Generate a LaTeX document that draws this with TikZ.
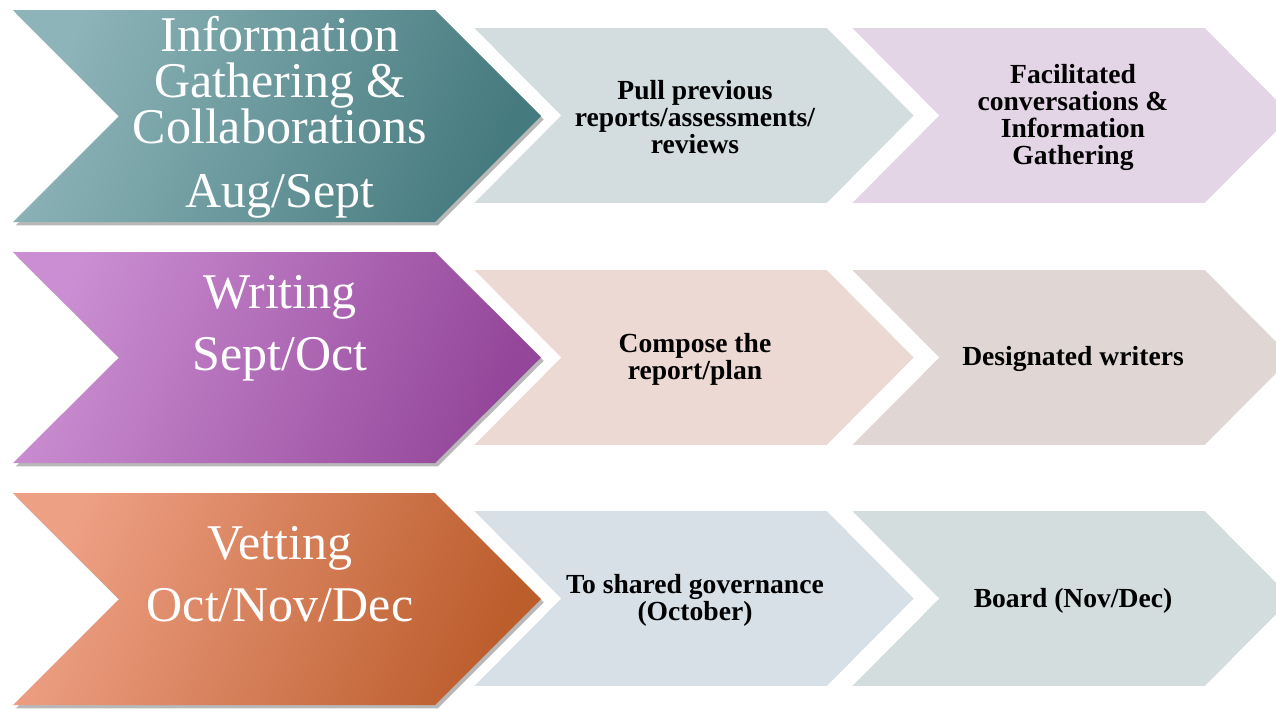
\documentclass[tikz,border=0pt]{standalone}
\usepackage{fontspec}
\setmainfont{Liberation Serif}
\usetikzlibrary{shadows}
\definecolor{tealL}{HTML}{8DB4B8}
\definecolor{tealM}{HTML}{6A9A9E}
\definecolor{tealD}{HTML}{457A7E}
\definecolor{purpL}{HTML}{CB8ED2}
\definecolor{purpM}{HTML}{BC6EBF}
\definecolor{purpD}{HTML}{94479A}
\definecolor{orgL}{HTML}{EEA085}
\definecolor{orgM}{HTML}{E07E58}
\definecolor{orgD}{HTML}{BC5D2C}
\definecolor{rOneA}{HTML}{D3DCDE}
\definecolor{rOneB}{HTML}{E3D5E5}
\definecolor{rTwoA}{HTML}{EDD9D3}
\definecolor{rTwoB}{HTML}{E0D7D5}
\definecolor{rThreeA}{HTML}{D7DFE7}
\definecolor{rThreeB}{HTML}{D4DDDD}
\tikzset{
  bigchev/.style n args={3}{top color=#1, middle color=#2, bottom color=#3, shading angle=68,
     drop shadow={shadow xshift=2pt, shadow yshift=-2.5pt, opacity=0.28, fill=black}},
  smallchev/.style={fill=#1, draw=white, line width=1.2pt},
  bigtext/.style={text=white, align=center, font=\fontsize{37.5}{34.5}\selectfont, inner sep=0pt},
  smalltext/.style={text=black, align=center, font=\fontsize{20.7}{20.25}\selectfont\bfseries, inner sep=0pt}
}
\begin{document}
\begin{tikzpicture}[x=0.75pt,y=-0.75pt]
\useasboundingbox (0,0) rectangle (1276,708);
\fill[white] (0,0) rectangle (1276,708);
% ---- row 1 ----
\path[smallchev=rOneA] (472,27) -- (827,27) -- (915,115.5) -- (827,204) -- (472,204) -- (560,115.5) -- cycle;
\path[smallchev=rOneB] (850,27) -- (1205,27) -- (1293,115.5) -- (1205,204) -- (850,204) -- (938,115.5) -- cycle;
\path[bigchev={tealL}{tealM}{tealD}] (13,10) -- (435,10) -- (541,116) -- (435,222) -- (13,222) -- (119,116) -- cycle;
\node[bigtext] (t1) at (280,117.5) {Information\\Gathering \&\\Collaborations\\[13.5pt]Aug/Sept};
\node[smalltext] (a1) at (695,117) {Pull previous\\reports/assessments/\\reviews};
\node[smalltext] (b1) at (1073,117) {Facilitated\\conversations \&\\Information\\Gathering};
% ---- row 2 ----
\path[smallchev=rTwoA] (472,269) -- (827,269) -- (915,357.5) -- (827,446) -- (472,446) -- (560,357.5) -- cycle;
\path[smallchev=rTwoB] (850,269) -- (1205,269) -- (1293,357.5) -- (1205,446) -- (850,446) -- (938,357.5) -- cycle;
\path[bigchev={purpL}{purpM}{purpD}] (13,252) -- (435,252) -- (541,357.5) -- (435,463) -- (13,463) -- (119,357.5) -- cycle;
\node[bigtext] (t2) at (280,328.5) {Writing\\[12pt]Sept/Oct};
\node[smalltext] (a2) at (695,359.5) {Compose the\\report/plan};
\node[smalltext] (b2) at (1073,359) {Designated writers};
% ---- row 3 ----
\path[smallchev=rThreeA] (472,510) -- (827,510) -- (915,598.5) -- (827,687) -- (472,687) -- (560,598.5) -- cycle;
\path[smallchev=rThreeB] (850,510) -- (1205,510) -- (1293,598.5) -- (1205,687) -- (850,687) -- (938,598.5) -- cycle;
\path[bigchev={orgL}{orgM}{orgD}] (13,493) -- (435,493) -- (541,599) -- (435,705) -- (13,705) -- (119,599) -- cycle;
\node[bigtext] (t3) at (280,574.5) {Vetting\\[12pt]Oct/Nov/Dec};
\node[smalltext] (a3) at (695,600) {To shared governance\\(October)};
\node[smalltext] (b3) at (1073,600.5) {Board (Nov/Dec)};
\end{tikzpicture}
\end{document}
